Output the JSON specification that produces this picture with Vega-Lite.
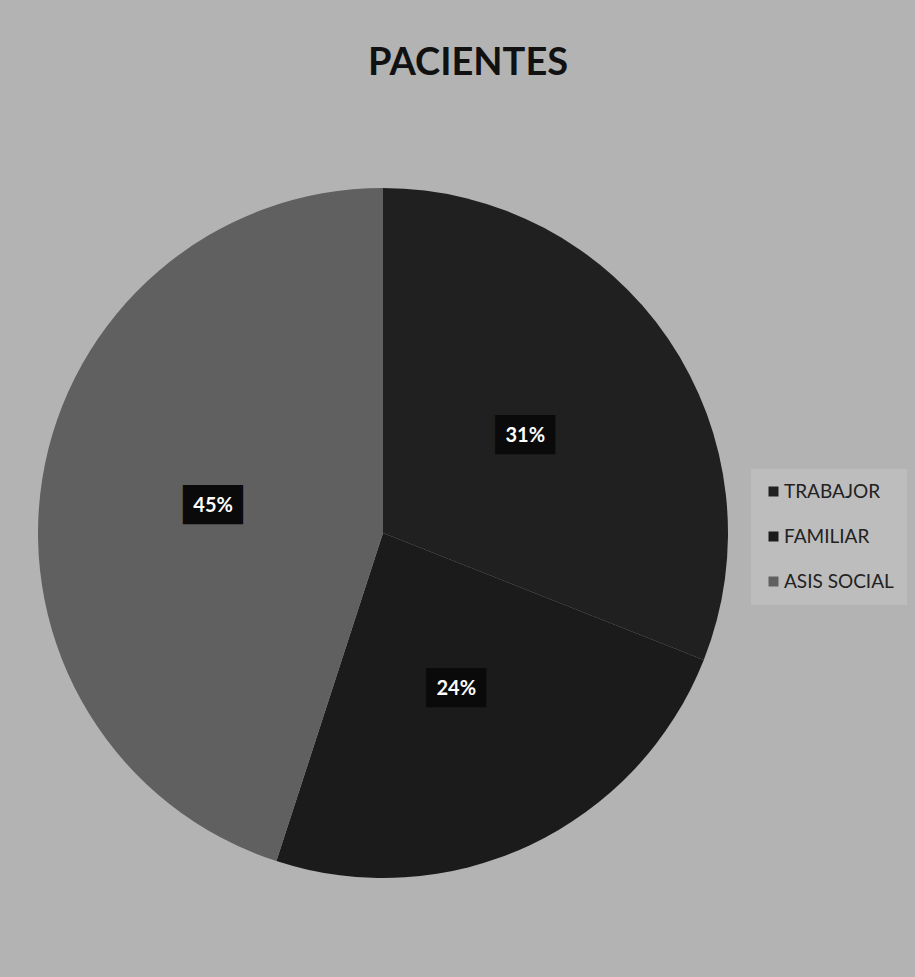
{
  "$schema": "https://vega.github.io/schema/vega-lite/v6.json",
  "width": 766,
  "height": 690,
  "autosize": {"type": "none"},
  "padding": {"left": 0, "top": 188, "right": 149, "bottom": 99},
  "background": "#b3b3b3",
  "title": {
    "text": "PACIENTES",
    "font": "Lato",
    "fontSize": 38,
    "fontWeight": "bold",
    "color": "#111111",
    "anchor": "middle",
    "frame": "group",
    "offset": 75,
    "baseline": "alphabetic",
    "dx": 85
  },
  "data": {
    "values": [
      {"categoria": "TRABAJOR", "valor": 31, "orden": 1, "etiqueta": "31%"},
      {"categoria": "FAMILIAR", "valor": 24, "orden": 2, "etiqueta": "24%"},
      {"categoria": "ASIS SOCIAL", "valor": 45, "orden": 3, "etiqueta": "45%"}
    ]
  },
  "encoding": {
    "theta": {"field": "valor", "type": "quantitative", "stack": true},
    "order": {"field": "orden", "type": "quantitative"}
  },
  "layer": [
    {
      "mark": {"type": "arc", "radius": 345, "strokeWidth": 0},
      "encoding": {
        "color": {
          "field": "categoria",
          "type": "nominal",
          "sort": ["TRABAJOR", "FAMILIAR", "ASIS SOCIAL"],
          "scale": {
            "domain": ["TRABAJOR", "FAMILIAR", "ASIS SOCIAL"],
            "range": ["#202020", "#1b1b1b", "#606060"]
          },
          "legend": {
            "title": null,
            "orient": "none",
            "legendX": 751,
            "legendY": 281,
            "fillColor": "#bdbdbd",
            "padding": 13,
            "rowPadding": 25,
            "symbolType": "square",
            "symbolSize": 100,
            "symbolStrokeWidth": 0,
            "labelFont": "Lato",
            "labelFontSize": 19,
            "labelColor": "#222222",
            "labelOffset": 1
          }
        }
      }
    },
    {
      "mark": {
        "type": "text",
        "radius": 172,
        "font": "DejaVu Sans Mono",
        "fontSize": 33,
        "color": "#0a0a0a",
        "text": "███"
      }
    },
    {
      "mark": {
        "type": "text",
        "radius": 172,
        "font": "Lato",
        "fontSize": 20,
        "fontWeight": "bold",
        "color": "#ffffff"
      },
      "encoding": {"text": {"field": "etiqueta", "type": "nominal"}}
    }
  ],
  "config": {"view": {"stroke": null}}
}
